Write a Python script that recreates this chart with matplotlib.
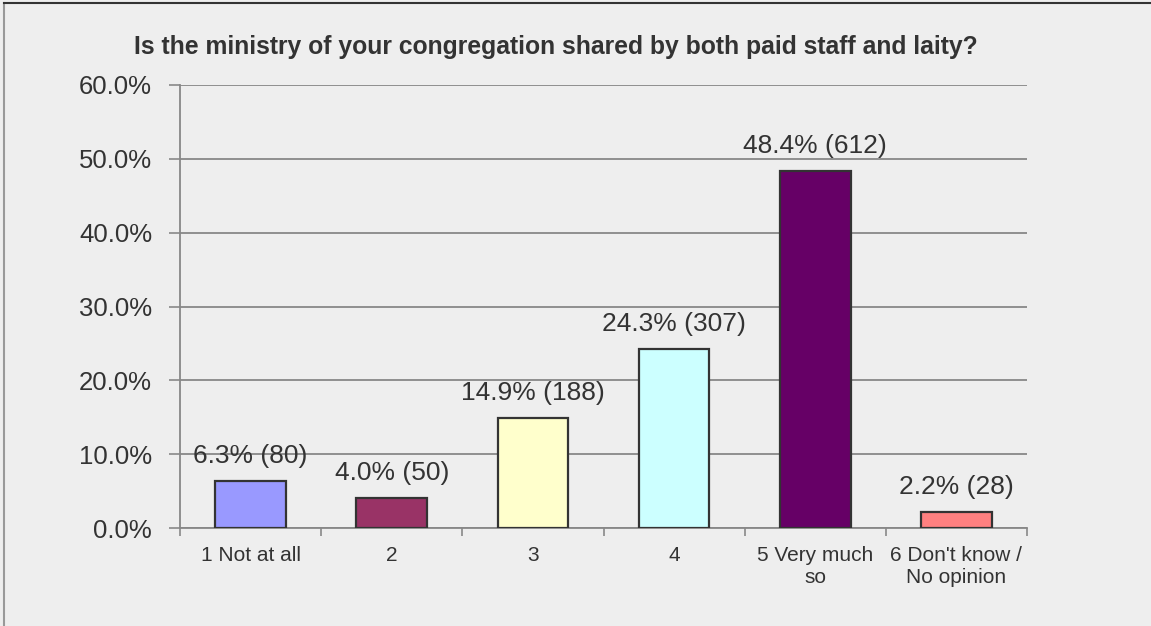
import matplotlib
matplotlib.use("Agg")
import matplotlib.pyplot as plt
from matplotlib.lines import Line2D

plt.rcParams['font.family'] = ['Liberation Sans', 'DejaVu Sans']

categories = ["1 Not at all", "2", "3", "4", "5 Very much\nso", "6 Don't know /\nNo opinion"]
percents = [6.3, 4.0, 14.9, 24.3, 48.4, 2.2]
counts = [80, 50, 188, 307, 612, 28]
colors = ["#9999FF", "#993366", "#FFFFCC", "#CCFFFF", "#660066", "#FF8080"]
yticks = [0, 10, 20, 30, 40, 50, 60]
title = "Is the ministry of your congregation shared by both paid staff and laity?"

W, H = 1151, 626
fig = plt.figure(figsize=(W / 100, H / 100), dpi=100)
fig.patch.set_facecolor("#EEEEEE")

ax = fig.add_axes([180 / W, (H - 528) / H, (1027 - 180) / W, 443 / H])
ax.set_facecolor("#EEEEEE")

x = list(range(len(categories)))
ax.bar(x, percents, width=0.5, color=colors, edgecolor="#333333", linewidth=1.6, zorder=3)

ax.set_xlim(-0.5, len(categories) - 0.5)
ax.set_ylim(0, 60)
ax.set_yticks(yticks)
ax.set_yticklabels([f"{v:.1f}%" for v in yticks], fontsize=18.5, color="#333333")
ax.tick_params(axis='y', length=8, width=1.2, color="#888888", pad=12)
ax.grid(axis='y', color="#888888", linewidth=1.3, zorder=0)

ax.set_xticks([i + 0.5 for i in range(-1, len(categories))], minor=False)
ax.set_xticklabels([])
ax.set_xticks(x, minor=True)
ax.set_xticklabels(categories, minor=True, fontsize=15, color="#333333", linespacing=1.2)
ax.tick_params(axis='x', which='major', length=6, width=1.2, color="#888888", direction='out')
ax.tick_params(axis='x', which='minor', length=0, pad=13)

for s in ['top', 'right']:
    ax.spines[s].set_visible(False)
for s in ['left', 'bottom']:
    ax.spines[s].set_color("#888888")
    ax.spines[s].set_linewidth(1.3)

for xi, p, c in zip(x, percents, counts):
    ax.annotate(f"{p:.1f}% ({c})", (xi, p), xytext=(0, 18), textcoords='offset pixels',
                ha='center', va='baseline', fontsize=19, color="#333333", zorder=4)

fig.text(556 / W, 1 - 47 / H, title, ha='center', va='center', fontsize=17.8,
         fontweight='bold', color="#333333")

# outer chart frame
fig.add_artist(Line2D([4 / W, 4 / W], [0, 1 - 3 / H], transform=fig.transFigure,
                      color="#999999", linewidth=1.5))
fig.add_artist(Line2D([4 / W, 1], [1 - 3 / H, 1 - 3 / H], transform=fig.transFigure,
                      color="#333333", linewidth=1.5))

fig.savefig("out.png", dpi=100, facecolor=fig.get_facecolor())
